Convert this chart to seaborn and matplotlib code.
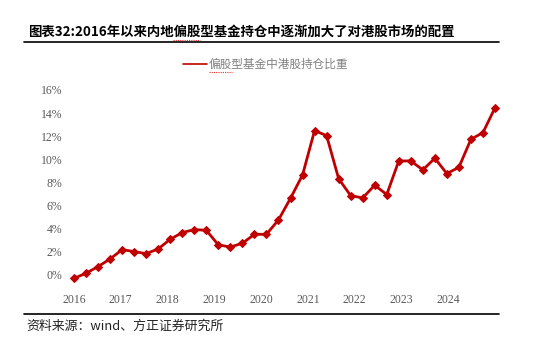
import matplotlib
matplotlib.use("Agg")
import matplotlib.pyplot as plt
import seaborn as sns
import pandas as pd
import numpy as np
from matplotlib.lines import Line2D

# ---- data ----
years = ["2016", "2017", "2018", "2019", "2020", "2021", "2022", "2023", "2024"]
quarters = ["Q1", "Q2", "Q3", "Q4"]
share_pct = [-0.35, 0.09, 0.67, 1.33, 2.14, 1.97, 1.79, 2.20, 3.04, 3.62, 3.88, 3.82,
             2.55, 2.37, 2.69, 3.47, 3.47, 4.72, 6.60, 8.62, 12.47, 12.04, 8.30, 6.83,
             6.63, 7.73, 6.92, 9.84, 9.84, 9.06, 10.07, 8.74, 9.29, 11.72, 12.30, 14.45]
ytick_vals = [0, 2, 4, 6, 8, 10, 12, 14, 16]
series_name = "偏股型基金中港股持仓比重"
title = "图表32:2016年以来内地偏股型基金持仓中逐渐加大了对港股市场的配置"
source = "资料来源：wind、方正证券研究所"

periods = [f"{y}{q}" for y in years for q in quarters]
df = pd.DataFrame({"period": periods, "idx": range(len(periods)), "value": share_pct})

sns.set_theme(style="white")
plt.rcParams["font.family"] = ["Noto Sans CJK SC", "DejaVu Sans"]

fig = plt.figure(figsize=(5.37, 3.5), dpi=100)
ax = fig.add_axes([68 / 537, (350 - 285.8) / 350, (501 - 68) / 537, (285.8 - 84.2) / 350])

red = "#C00000"
sns.lineplot(data=df, x="idx", y="value", ax=ax, color=red, linewidth=2.0,
             marker="D", markersize=3.8, markeredgecolor=red, markerfacecolor=red,
             legend=False)

ax.set_xlim(-0.5, len(periods) - 0.5)
ax.set_ylim(-1.0, 16.5)
ax.set_yticks(ytick_vals)
ax.set_yticklabels([f"{v}%" for v in ytick_vals])
n = len(periods)
ax.set_xticks([k * (n - 1) / len(years) for k in range(len(years))])
ax.set_xticklabels(years)
for lab in ax.get_xticklabels() + ax.get_yticklabels():
    lab.set_fontfamily("Liberation Serif")
    lab.set_fontsize(8.5)
    lab.set_color("#595959")
ax.tick_params(axis="both", length=0)
ax.tick_params(axis="y", pad=4)
ax.tick_params(axis="x", pad=6)
ax.set_xlabel("")
ax.set_ylabel("")
for s in ax.spines.values():
    s.set_visible(False)
ax.grid(False)

# title and rules
fig.text(28 / 537, 1 - 32 / 350, title, fontsize=9.65, fontweight="bold",
         va="center", ha="left", color="black")
fig.add_artist(Line2D([24 / 537, 499 / 537], [1 - 42.3 / 350] * 2, color="black", lw=1.2))
fig.add_artist(Line2D([24 / 537, 499 / 537], [1 - 314 / 350] * 2, color="black", lw=1.2))
fig.text(26 / 537, 1 - 326 / 350, source, fontsize=9.3, style="italic",
         va="center", ha="left", color="#222222")

# legend
fig.add_artist(Line2D([183 / 537, 207 / 537], [1 - 64 / 350] * 2, color=red, lw=1.2))
fig.text(209 / 537, 1 - 64 / 350, series_name, fontsize=8.4, va="center", ha="left",
         color="#808080")

# spell-check squiggles
fig.add_artist(Line2D([173 / 537, 200 / 537], [1 - 39.5 / 350] * 2, color="#E03030",
                      lw=0.8, linestyle=(0, (1, 1))))
fig.add_artist(Line2D([209 / 537, 232 / 537], [1 - 71.5 / 350] * 2, color="#E03030",
                      lw=0.8, linestyle=(0, (1, 1))))

fig.savefig("out.png", dpi=100)
